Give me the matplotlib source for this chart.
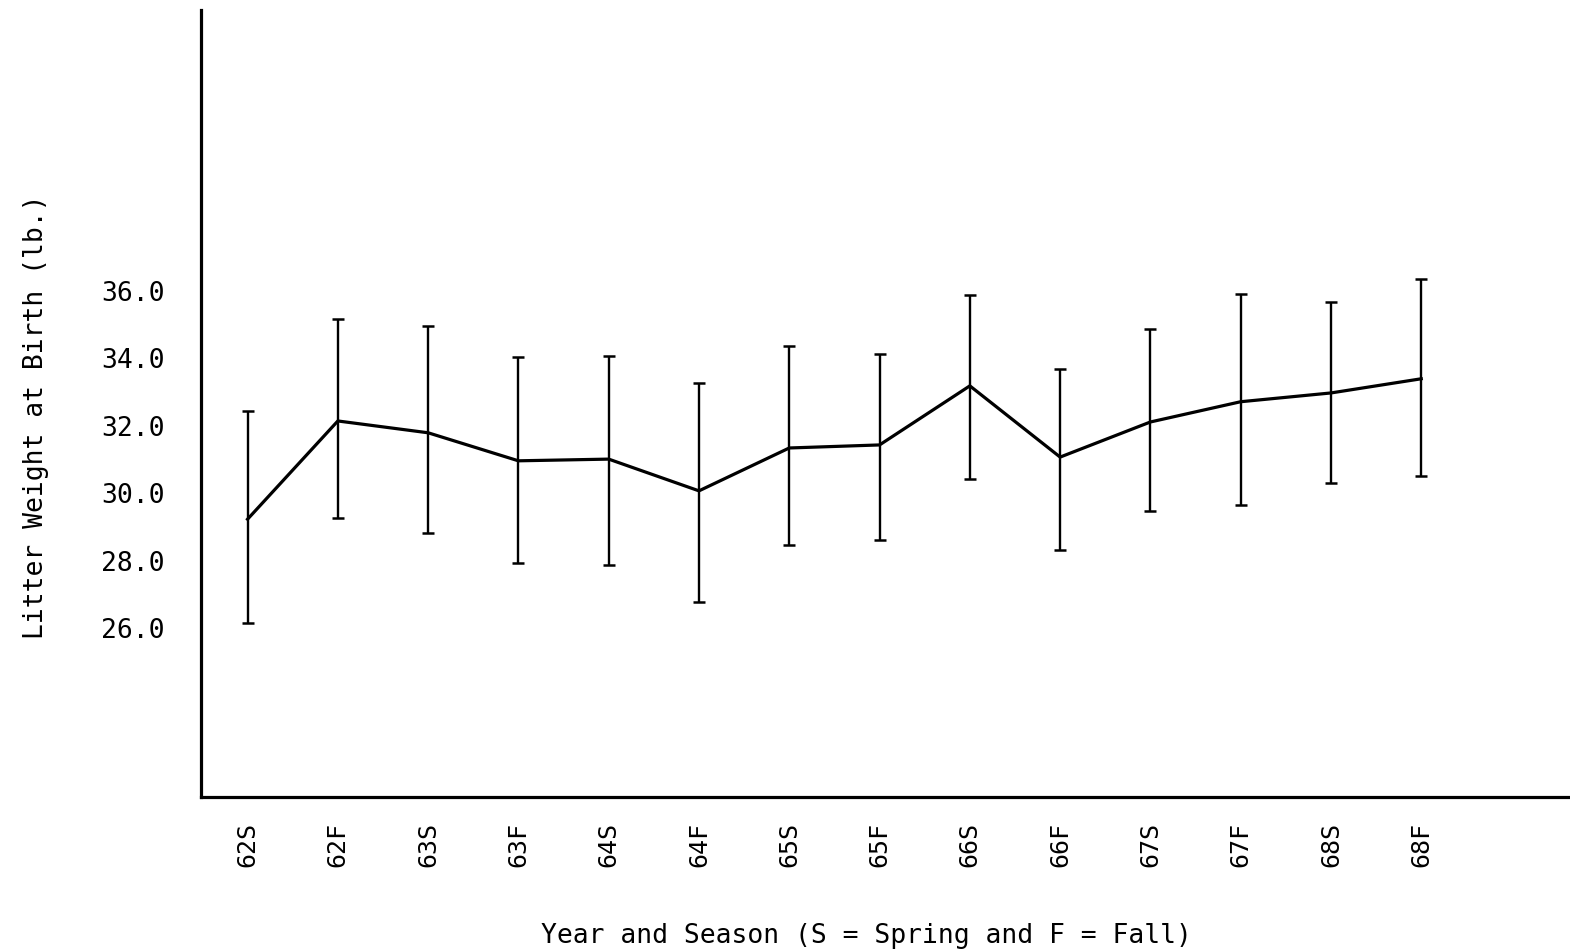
import numpy as np
import matplotlib
matplotlib.use("Agg")
import matplotlib.pyplot as plt

# ==========================================================
# Data
# ==========================================================

seasons = ["62S", "62F", "63S", "63F", "64S", "64F", "65S",
           "65F", "66S", "66F", "67S", "67F", "68S", "68F"]

mean_weight = [29.23, 32.14, 31.79, 30.96, 31.01, 30.07, 31.34,
               31.43, 33.18, 31.07, 32.11, 32.71, 32.97, 33.39]

upper_limit = [32.44, 35.17, 34.96, 34.04, 34.07, 33.27, 34.37,
               34.13, 35.88, 33.69, 34.87, 35.91, 35.67, 36.36]

lower_limit = [26.15, 29.26, 28.82, 27.93, 27.87, 26.77, 28.46,
               28.61, 30.42, 28.31, 29.47, 29.65, 30.30, 30.51]

y_ticks = [26.0, 28.0, 30.0, 32.0, 34.0, 36.0]

# ==========================================================
# Plot
# ==========================================================

plt.rcParams["font.family"] = ["DejaVu Sans Mono"]

x = np.arange(len(seasons))
mean_weight = np.array(mean_weight)
err = [mean_weight - np.array(lower_limit),
       np.array(upper_limit) - mean_weight]

fig = plt.figure(figsize=(15.7, 9.5), dpi=100)
ax = fig.add_axes([0.128, 0.161, 0.871, 0.828])

ax.errorbar(
    x,
    mean_weight,
    yerr=err,
    color="black",
    linewidth=2.3,
    elinewidth=1.7,
    capsize=4,
    capthick=1.8
)

ax.set_xlim(-0.516, 14.63)
ax.set_ylim(21.0, 44.3)

ax.set_xticks(x)
ax.set_xticklabels(seasons, rotation=90, fontsize=18)
ax.set_yticks(y_ticks)
ax.set_yticklabels([f"{v:.1f}" for v in y_ticks], fontsize=19)

ax.tick_params(axis="both", length=0)
ax.tick_params(axis="x", pad=18)
ax.tick_params(axis="y", pad=26)

for side in ["top", "right"]:
    ax.spines[side].set_visible(False)
for side in ["left", "bottom"]:
    ax.spines[side].set_linewidth(2.3)

ax.set_xlabel("Year and Season (S = Spring and F = Fall)",
              fontsize=19, labelpad=40, x=0.487)
ax.set_ylabel("Litter Weight at Birth (lb.)", fontsize=19,
              labelpad=38, y=0.483)

fig.savefig("out.png", dpi=100)
